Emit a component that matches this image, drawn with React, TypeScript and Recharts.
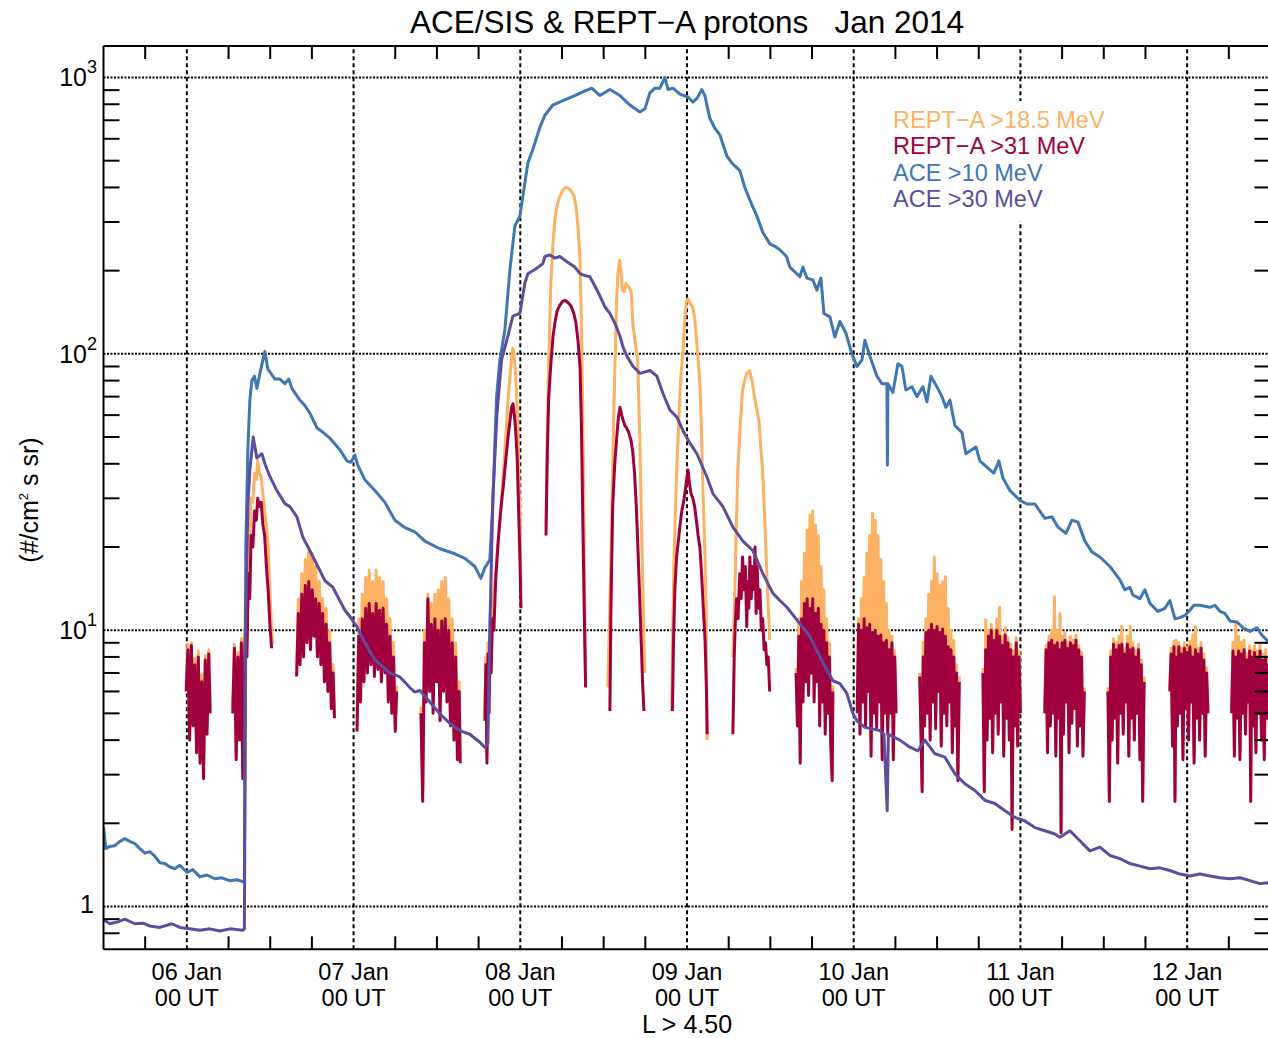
import { LineChart, Line, XAxis, YAxis, ReferenceLine } from "recharts"

// time axis: hours since 06 Jan 2014 00 UT; values in #/cm^2 s sr
const X_MIN = -12
const X_MAX = 156
const Y_MIN = 0.7
const Y_MAX = 1300

const dayTicks = [0, 24, 48, 72, 96, 120, 144]
const dayLabels = ["06 Jan", "07 Jan", "08 Jan", "09 Jan", "10 Jan", "11 Jan", "12 Jan"]
const xMinorTicks = [-6, 6, 12, 18, 30, 36, 42, 54, 60, 66, 78, 84, 90, 102, 108, 114, 126, 132, 138, 150]
const decadeTicks = [1, 10, 100, 1000]
const decadeLabels = ["1", "10^1", "10^2", "10^3"]
const yMinorTicks = [0.8, 0.9, 2, 3, 4, 5, 6, 7, 8, 9, 20, 30, 40, 50, 60, 70, 80, 90, 200, 300, 400, 500, 600, 700, 800, 900]

const seriesNames = ["REPT\u2212A >18.5 MeV", "REPT\u2212A >31 MeV", "ACE >10 MeV", "ACE >30 MeV"]
const seriesColors = ["#FDB163", "#A0003E", "#3F76B4", "#5B4EA0"]

const ace10 = [
  [-12, 1.94], [-11.66, 1.62], [-11.09, 1.65], [-10.37, 1.66], [-9.65, 1.72], [-8.93, 1.76], [-8.21, 1.72], [-7.49, 1.69],
  [-6.77, 1.62], [-6.05, 1.56], [-5.33, 1.58], [-4.61, 1.52], [-3.89, 1.44], [-3.17, 1.43], [-2.45, 1.39], [-1.73, 1.37],
  [-1.01, 1.41], [0, 1.33], [0.86, 1.36], [1.87, 1.28], [2.88, 1.3], [4.03, 1.26], [5.04, 1.27], [6.19, 1.24], [7.2, 1.25],
  [8.06, 1.23], [8.28, 1.24], [8.49, 20], [8.78, 45], [9.07, 68], [9.36, 80], [9.73, 83], [10.08, 75], [10.65, 88],
  [11.23, 102], [11.66, 88], [11.95, 86], [12.67, 81], [13.39, 81], [14.11, 78], [14.68, 81], [15.12, 75], [16.27, 68],
  [16.99, 65], [17.71, 61], [18.72, 54], [19.58, 52], [20.59, 49.5], [22.03, 45], [23.03, 41], [23.61, 40.5], [24.19, 43],
  [24.62, 39.5], [25.63, 35], [27.07, 32], [28.51, 29], [29.95, 25], [31.39, 23.5], [32.82, 22.7], [34.26, 21], [36.42, 19.7],
  [38.58, 18.9], [40.02, 18.2], [41.46, 17], [42.33, 15.4], [42.9, 16.8], [43.33, 17.5], [43.62, 18], [44.05, 29], [44.59, 70],
  [45.06, 95], [45.78, 122], [46.5, 201], [47.22, 290], [47.94, 315], [49.09, 490], [49.81, 550], [50.82, 660], [51.54, 730],
  [52.69, 795], [54.13, 825], [55.86, 860], [57.3, 895], [58.31, 915], [59.46, 860], [60.9, 905], [62.34, 860], [63.78, 795],
  [65.22, 750], [65.94, 770], [66.66, 880], [67.38, 915], [68.1, 915], [68.82, 1000], [69.26, 905], [69.98, 915], [70.98, 870],
  [72.14, 850], [72.85, 815], [73.43, 840], [74.14, 905], [74.58, 860], [74.86, 795], [75.3, 710], [76.01, 655], [76.73, 620],
  [77.74, 520], [78.46, 490], [79.61, 460], [80.33, 400], [81.05, 360], [82.06, 315], [82.92, 275], [83.93, 250], [84.65, 245],
  [85.37, 238], [86.33, 225], [86.81, 206], [88.25, 190], [88.68, 206], [89.26, 188], [90.12, 185], [90.7, 170], [91.28, 188],
  [91.71, 140], [92.57, 136], [93.29, 115], [94.01, 131], [94.87, 119], [95.74, 100], [96.46, 90], [97.18, 95], [97.61, 112],
  [98.33, 98], [99.34, 83], [100.06, 78], [100.78, 78], [100.85, 39.5], [100.92, 78], [101.64, 72.5], [102.36, 92], [102.94, 90],
  [103.51, 74], [104.38, 76], [105.1, 70], [105.96, 76], [106.54, 67], [107.11, 83], [107.98, 76], [108.7, 70], [109.27, 64],
  [109.85, 68], [110.57, 55], [111.57, 52], [112.15, 43.5], [113.01, 45], [113.59, 46], [114.17, 41], [115.61, 38], [116.18, 37],
  [116.9, 41], [117.48, 35.5], [118.49, 32], [119.93, 29.5], [120.93, 28.6], [122.08, 28.6], [123.52, 25.4], [124.53, 25.7],
  [125.4, 23.6], [126.55, 22.4], [127.41, 25], [128.28, 24.6], [129.28, 21], [130.29, 19.2], [131.44, 18.4], [132.88, 17],
  [134.32, 15.2], [135.04, 14], [135.76, 14.3], [136.19, 13.4], [137.2, 13], [137.92, 14], [138.64, 12.5], [139.79, 11.7],
  [140.8, 12], [141.52, 12.8], [142.24, 11], [142.96, 11.1], [143.68, 11.3], [144.4, 11.8], [144.98, 12.3], [145.84, 12.3],
  [147.28, 12.1], [148, 12.3], [148.72, 11.7], [149.44, 11.5], [150.16, 10.8], [151.17, 10.7], [152.03, 10.2], [153.04, 9.9],
  [154.05, 10.2], [154.76, 9.6], [155.63, 9.1], [156, 9.0],
]

const ace30 = [
  [-12, 0.9], [-11.8, 0.89], [-11.09, 0.866], [-9.93, 0.88], [-8.93, 0.9], [-7.49, 0.866], [-6.33, 0.87], [-5.33, 0.85],
  [-3.89, 0.84], [-2.16, 0.866], [-1.01, 0.84], [0.43, 0.83], [1.87, 0.82], [3.31, 0.83], [4.75, 0.815], [6.19, 0.83],
  [8.06, 0.82], [8.28, 0.83], [8.49, 12], [8.78, 28], [9.07, 38], [9.55, 50], [10.08, 42], [10.8, 43.5], [11.23, 40],
  [11.95, 36], [12.96, 32], [14.11, 28.7], [14.83, 28], [15.84, 25.7], [16.7, 21.7], [17.71, 19.4], [18.86, 17], [19.87, 15.1],
  [21.02, 14.3], [21.74, 13.2], [22.75, 11.8], [23.47, 11.2], [24.47, 10.3], [25.63, 9.0], [27.07, 7.8], [29.2, 7.0],
  [30.67, 6.77], [32.1, 6.2], [32.82, 5.97], [33.54, 6.05], [34.98, 5.5], [36.42, 4.98], [37.86, 4.6], [39.3, 4.33],
  [40.74, 4.2], [42.18, 3.93], [42.9, 3.76], [43.33, 3.9], [43.62, 10], [44.05, 30], [44.63, 60], [45.3, 95], [46.21, 116],
  [46.93, 137], [47.94, 140], [48.66, 180], [49.09, 195], [50.1, 202], [51.25, 212], [51.54, 225], [52.26, 228], [52.98, 222],
  [53.7, 225], [54.42, 218], [55.14, 212], [55.86, 206], [56.58, 195], [57.3, 192], [58.02, 190], [58.74, 176], [59.46, 162],
  [60.18, 148], [60.9, 140], [61.62, 129], [62.34, 116], [62.78, 106], [63.35, 98], [64.24, 90], [65.22, 85], [66.66, 87],
  [67.67, 83], [68.53, 72], [69.54, 62.6], [70.54, 59], [71.41, 52.8], [72.42, 47.5], [73.43, 43.5], [74.86, 35.9],
  [75.73, 31.2], [77.17, 28], [78.61, 23.6], [80.05, 21], [81.49, 19.4], [82.92, 16], [84.36, 13.6], [85.37, 12.8],
  [86.38, 12.1], [87.82, 10.9], [89.69, 9.5], [91.13, 8.0], [93.0, 6.56], [94.01, 6.4], [95.02, 5.9], [95.88, 5.0],
  [96.46, 4.7], [97.61, 4.45], [99.77, 4.33], [100.35, 4.2], [100.82, 2.22], [100.99, 4.2], [102.65, 4.0], [104.09, 3.77],
  [105.24, 3.66], [106.25, 4.0], [107.69, 3.57], [109.13, 3.47], [110.57, 3.02], [112.0, 2.78], [113.45, 2.63], [114.89, 2.42],
  [116.33, 2.36], [117.77, 2.22], [119.21, 2.1], [120.65, 2.04], [122.08, 1.93], [123.52, 1.88], [124.96, 1.83], [125.68, 1.78],
  [127.12, 1.88], [128.56, 1.73], [130.0, 1.59], [131.44, 1.64], [132.88, 1.53], [134.32, 1.49], [135.76, 1.43], [137.2, 1.4],
  [138.64, 1.37], [140.08, 1.38], [141.52, 1.35], [142.96, 1.31], [144.4, 1.29], [145.84, 1.31], [147.28, 1.29], [148.72, 1.27],
  [150.16, 1.26], [151.6, 1.27], [153.04, 1.24], [154.46, 1.21], [155.63, 1.22], [156, 1.2],
]

// REPT-A passes above L = 4.5, one array per pass
const rept31Passes = [
  [[-0.1, 6.0], [0.15, 8.5], [0.4, 4.0], [0.65, 8.8], [0.9, 4.5], [1.15, 7.5], [1.4, 3.6], [1.65, 8.0], [1.9, 3.3], [2.15, 6.5], [2.4, 2.9], [2.65, 7.8], [2.9, 4.2], [3.15, 8.2], [3.35, 5.0]],
  [[6.6, 5.0], [6.85, 8.6], [7.1, 3.4], [7.35, 8.0], [7.6, 4.0], [7.85, 9.0], [8.05, 2.9], [8.25, 6.5], [8.45, 10.5], [8.65, 8.0], [8.85, 16], [9.05, 13], [9.25, 22], [9.5, 20], [9.75, 27], [10.0, 25], [10.2, 30], [10.45, 28], [10.7, 29], [10.95, 24], [11.2, 22], [11.45, 17], [11.7, 14], [11.95, 10.5], [12.2, 8.6]],
  [[15.8, 6.8], [16.05, 11.5], [16.3, 7.5], [16.55, 13.5], [16.8, 8.0], [17.05, 14.5], [17.3, 9.0], [17.55, 15.0], [17.8, 8.5], [18.05, 14.0], [18.3, 9.5], [18.55, 13.0], [18.8, 8.0], [19.05, 12.5], [19.3, 7.5], [19.55, 11.5], [19.8, 6.5], [20.05, 10.5], [20.3, 6.0], [20.55, 9.0], [20.8, 5.2], [21.05, 7.0], [21.25, 4.8]],
  [[24.5, 4.3], [24.75, 9.5], [25.0, 5.5], [25.25, 11], [25.5, 6.5], [25.75, 12], [26.0, 7.0], [26.25, 12.5], [26.5, 7.5], [26.75, 11.5], [27.0, 6.8], [27.25, 12.5], [27.5, 7.2], [27.75, 11.8], [28.0, 6.5], [28.25, 12], [28.5, 7.0], [28.75, 10.5], [29.0, 5.5], [29.25, 9.5], [29.5, 5.0], [29.75, 8.0], [30.0, 4.3], [30.2, 6.0]],
  [[33.7, 5.0], [33.95, 2.4], [34.2, 9.0], [34.45, 5.5], [34.7, 13.0], [34.95, 6.0], [35.2, 10.5], [35.45, 5.0], [35.7, 11.0], [35.95, 6.5], [36.2, 10.0], [36.45, 4.7], [36.7, 10.8], [36.95, 6.0], [37.2, 11.0], [37.45, 5.5], [37.7, 10.0], [37.95, 4.5], [38.2, 9.0], [38.45, 4.0], [38.7, 8.0], [38.95, 3.4], [39.2, 6.0], [39.35, 3.3]],
  [[42.9, 4.7], [43.05, 7.5], [43.2, 3.3], [43.35, 8.2], [43.5, 5.0], [43.65, 9.5], [43.8, 7.0], [44.0, 11], [44.2, 10], [44.45, 15], [44.7, 19], [45.0, 24], [45.3, 29], [45.6, 34], [45.9, 41], [46.2, 49], [46.5, 57], [46.75, 64], [46.95, 66], [47.15, 60], [47.35, 52], [47.55, 42], [47.75, 28], [47.95, 18], [48.1, 12]],
  [[51.7, 22], [51.9, 45], [52.1, 70], [52.4, 92], [52.7, 115], [53.0, 130], [53.3, 143], [53.7, 150], [54.1, 155], [54.5, 156], [54.9, 153], [55.3, 149], [55.7, 140], [56.0, 130], [56.3, 112], [56.6, 90], [56.8, 55], [57.0, 25], [57.2, 12], [57.4, 6.2]],
  [[60.9, 5.1], [61.05, 12], [61.3, 28], [61.6, 40], [61.85, 48.5], [62.1, 58], [62.35, 64], [62.6, 60], [62.8, 57.6], [63.05, 55], [63.3, 54], [63.6, 52], [63.95, 48.5], [64.2, 44], [64.45, 37], [64.7, 28], [64.9, 21], [65.15, 14], [65.4, 9.2], [65.6, 6.5], [65.8, 5.1]],
  [[69.9, 5.1], [70.05, 9], [70.25, 14], [70.5, 18.4], [70.75, 21], [71.0, 24], [71.25, 27], [71.5, 29], [71.75, 32], [72.0, 36], [72.15, 38], [72.35, 34], [72.6, 31], [72.85, 30], [73.1, 28], [73.35, 25], [73.6, 22], [73.85, 20], [74.1, 16], [74.35, 12], [74.6, 9.2], [74.8, 6], [74.9, 4.2]],
  [[78.6, 4.2], [78.8, 8], [78.95, 10.6], [79.15, 13], [79.35, 11], [79.6, 16], [79.8, 13], [80.0, 18.4], [80.2, 14], [80.4, 17], [80.6, 10.3], [80.75, 15], [80.9, 12], [81.05, 18.4], [81.25, 13], [81.45, 17], [81.65, 14], [81.8, 20], [81.95, 11.5], [82.1, 17], [82.3, 12], [82.5, 14], [82.7, 10], [82.9, 11], [83.1, 8.5], [83.3, 9], [83.5, 7.5], [83.7, 8], [83.9, 6]],
  [[87.7, 7], [87.9, 4.5], [88.1, 9.5], [88.3, 3.3], [88.5, 11], [88.7, 5.5], [88.9, 12.5], [89.1, 6.5], [89.3, 13], [89.5, 5.8], [89.7, 12], [89.9, 7], [90.1, 13], [90.3, 5.5], [90.5, 11.5], [90.7, 6.5], [90.9, 12], [91.1, 4.5], [91.3, 10.5], [91.5, 5.5], [91.7, 10], [91.9, 4.2], [92.1, 9], [92.3, 5], [92.5, 8], [92.7, 3.8], [92.9, 2.85], [93.0, 6]],
  [[96.5, 5], [96.7, 10.5], [96.9, 4.2], [97.1, 10], [97.3, 5.5], [97.5, 11], [97.7, 4.5], [97.9, 10.2], [98.1, 6], [98.3, 10.5], [98.5, 3.5], [98.7, 9.8], [98.9, 5], [99.1, 10], [99.3, 4.4], [99.5, 9.5], [99.7, 5.5], [99.9, 9.6], [100.1, 3.4], [100.3, 9], [100.5, 5], [100.7, 9.2], [100.9, 4.2], [101.1, 8.5], [101.3, 5], [101.5, 9], [101.7, 3.4], [101.9, 8], [102.1, 5]],
  [[105.5, 6.8], [105.7, 4], [105.85, 2.6], [106.0, 8], [106.2, 4.5], [106.4, 9.8], [106.6, 5], [106.8, 10], [107.0, 4], [107.2, 10.5], [107.4, 5.5], [107.6, 10], [107.8, 4.4], [108.0, 10.3], [108.2, 6], [108.4, 9.8], [108.6, 3.8], [108.8, 10.1], [109.0, 5], [109.2, 9.5], [109.4, 4.5], [109.6, 8.7], [109.8, 5.5], [110.0, 8.5], [110.2, 3.6], [110.4, 8], [110.6, 4.5], [110.8, 7], [111.0, 2.85], [111.2, 6.5]],
  [[114.6, 7], [114.8, 2.6], [115.0, 8.5], [115.2, 4], [115.4, 9.5], [115.6, 4.8], [115.8, 10], [116.0, 3.6], [116.2, 9.2], [116.4, 5], [116.6, 10], [116.8, 4.2], [117.0, 9.5], [117.2, 5.5], [117.4, 8.8], [117.6, 3.5], [117.8, 9.6], [118.0, 4.8], [118.2, 9], [118.4, 4], [118.6, 8.5], [118.8, 1.9], [119.0, 8], [119.2, 4.5], [119.4, 9], [119.6, 3.8], [119.8, 8], [120.0, 5]],
  [[123.5, 5], [123.7, 8.5], [123.9, 3.6], [124.1, 9], [124.3, 4.5], [124.5, 9.2], [124.7, 5], [124.9, 8.8], [125.1, 3.5], [125.3, 9], [125.5, 4.8], [125.7, 8.5], [125.85, 1.85], [126.0, 9], [126.2, 4.2], [126.4, 9.2], [126.6, 5.5], [126.8, 8.6], [127.0, 3.6], [127.2, 9], [127.4, 4.6], [127.6, 8.8], [127.8, 5.2], [128.0, 9.2], [128.2, 3.8], [128.4, 8.5], [128.6, 4.5], [128.8, 8], [129.0, 3.5], [129.2, 6]],
  [[132.6, 6], [132.8, 2.4], [133.0, 8], [133.2, 4], [133.4, 8.9], [133.6, 4.8], [133.8, 8.5], [134.0, 3.3], [134.2, 8.8], [134.4, 5], [134.6, 8.9], [134.8, 4.2], [135.0, 8.2], [135.2, 5.5], [135.4, 8.9], [135.6, 3.5], [135.8, 8.5], [136.0, 4.8], [136.2, 8.6], [136.4, 4], [136.6, 8], [136.8, 5], [137.0, 8.5], [137.2, 3.4], [137.4, 7.5], [137.6, 2.4], [137.8, 6.5]],
  [[141.5, 6], [141.7, 8.2], [141.9, 3.8], [142.1, 8.7], [142.25, 2.4], [142.4, 8], [142.6, 4.5], [142.8, 8.7], [143.0, 5], [143.2, 8.2], [143.4, 3.4], [143.6, 8.6], [143.8, 5.2], [144.0, 8.3], [144.2, 4], [144.4, 8.7], [144.6, 5.5], [144.8, 8], [145.0, 3.3], [145.2, 8.5], [145.4, 4.8], [145.6, 8.2], [145.8, 4], [146.0, 8.6], [146.2, 5], [146.4, 7.8], [146.6, 3.5], [146.8, 7], [147.0, 5]],
  [[150.4, 5], [150.6, 8.4], [150.8, 3.5], [151.0, 8], [151.2, 4.8], [151.4, 8.4], [151.6, 3.4], [151.8, 8.2], [152.0, 5], [152.2, 8.5], [152.4, 4.2], [152.6, 7.8], [152.8, 5.5], [153.0, 8.4], [153.15, 2.4], [153.3, 8], [153.5, 4.5], [153.7, 8.3], [153.9, 3.6], [154.1, 8], [154.3, 5], [154.5, 8.4], [154.7, 4], [154.9, 7.8], [155.1, 3.4], [155.3, 8], [155.5, 4.8], [155.7, 7.5], [155.9, 3.8], [156.0, 6]],
]

const rept18Passes = [
  [[-0.1, 6.3], [0.15, 8.9], [0.4, 4.3], [0.65, 9.0], [0.9, 4.8], [1.15, 7.9], [1.4, 3.9], [1.65, 8.4], [1.9, 3.5], [2.15, 6.9], [2.4, 3.1], [2.65, 8.1], [2.9, 4.5], [3.15, 8.5], [3.35, 5.3]],
  [[6.6, 5.3], [6.85, 8.9], [7.1, 3.6], [7.35, 8.3], [7.6, 4.3], [7.85, 9.3], [8.05, 3.1], [8.25, 7.5], [8.45, 13], [8.65, 11], [8.85, 22], [9.05, 20], [9.25, 30], [9.5, 29], [9.75, 37], [10.0, 35], [10.2, 41], [10.45, 37], [10.7, 36], [10.95, 31], [11.2, 27], [11.45, 24], [11.7, 20], [11.95, 14], [12.3, 8.9]],
  [[15.8, 7.2], [16.05, 13], [16.3, 9], [16.55, 16], [16.8, 11], [17.05, 18], [17.3, 12], [17.55, 20], [17.8, 13], [18.05, 19], [18.3, 12], [18.55, 17], [18.8, 11], [19.05, 15], [19.3, 9.5], [19.55, 13], [19.8, 8], [20.05, 12], [20.3, 6.5], [20.55, 10], [20.8, 5.5], [21.05, 7.5], [21.25, 4.9]],
  [[24.5, 4.5], [24.75, 11], [25.0, 6.5], [25.25, 13.5], [25.5, 8], [25.75, 15.5], [26.0, 9], [26.25, 16.5], [26.5, 10], [26.75, 15], [27.0, 9], [27.25, 16.5], [27.5, 10], [27.75, 15.5], [28.0, 9], [28.25, 15], [28.5, 8.5], [28.75, 13], [29.0, 7], [29.25, 11], [29.5, 6], [29.75, 9], [30.0, 4.5], [30.2, 6.3]],
  [[33.7, 5.3], [33.95, 2.6], [34.2, 10], [34.45, 6.5], [34.7, 13.5], [34.95, 8], [35.2, 12.5], [35.45, 7], [35.7, 13.5], [35.95, 8.5], [36.2, 14], [36.45, 7], [36.7, 15], [36.95, 9], [37.2, 15.5], [37.45, 8], [37.7, 13], [37.95, 6.5], [38.2, 11], [38.45, 5.5], [38.7, 9], [38.95, 4], [39.2, 6.5], [39.35, 3.4]],
  [[42.9, 5.0], [43.05, 8], [43.2, 3.5], [43.35, 9], [43.5, 6], [43.65, 11.5], [43.8, 10], [44.0, 12], [44.2, 14], [44.45, 16], [44.7, 19], [45.0, 24], [45.3, 30], [45.6, 38], [45.9, 50], [46.2, 66], [46.5, 82], [46.75, 98], [46.95, 105], [47.15, 96], [47.35, 82], [47.55, 65], [47.75, 42], [47.95, 25], [48.1, 14]],
  [[51.7, 24], [51.9, 55], [52.1, 95], [52.4, 180], [52.7, 250], [53.0, 310], [53.3, 345], [53.7, 372], [54.1, 390], [54.5, 400], [54.9, 398], [55.3, 390], [55.7, 375], [56.0, 345], [56.3, 290], [56.6, 218], [56.8, 130], [57.0, 60], [57.2, 20], [57.4, 6.5]],
  [[60.6, 6.2], [60.8, 10], [61.1, 21], [61.35, 45], [61.6, 85], [61.85, 150], [62.05, 195], [62.3, 218], [62.5, 200], [62.7, 170], [62.95, 168], [63.2, 180], [63.5, 176], [63.8, 172], [64.0, 165], [64.2, 128], [64.5, 112], [64.9, 95], [65.2, 50], [65.45, 24], [65.65, 14], [65.9, 7]],
  [[69.8, 5.1], [69.95, 10], [70.1, 17], [70.35, 28], [70.55, 40], [70.8, 55], [71.0, 74], [71.2, 88], [71.45, 105], [71.7, 135], [71.9, 155], [72.15, 158], [72.45, 152], [72.8, 148], [73.1, 135], [73.4, 110], [73.65, 92], [73.9, 74], [74.1, 50], [74.3, 32], [74.55, 20], [74.75, 12], [74.9, 4.0]],
  [[78.6, 8], [78.9, 14], [79.1, 24], [79.3, 37], [79.6, 52], [80.0, 74], [80.3, 80], [80.6, 85], [81.0, 87], [81.2, 83], [81.4, 79], [81.7, 70], [82.0, 64], [82.2, 60], [82.4, 56], [82.65, 45], [82.9, 37], [83.2, 25], [83.5, 16], [83.7, 12], [83.9, 9.2]],
  [[87.7, 7.3], [87.9, 4.8], [88.1, 11], [88.3, 3.5], [88.5, 15], [88.7, 6], [88.9, 19], [89.1, 7.5], [89.3, 23], [89.5, 7], [89.7, 26], [89.9, 9], [90.1, 27], [90.3, 8], [90.5, 24], [90.7, 9], [90.9, 22], [91.1, 6], [91.3, 17], [91.5, 7], [91.7, 14], [91.9, 5], [92.1, 11], [92.3, 6], [92.5, 9], [92.7, 4], [92.9, 3], [93.0, 6.3]],
  [[96.5, 5.3], [96.7, 11], [96.9, 4.5], [97.1, 13], [97.3, 6], [97.5, 15.5], [97.7, 5], [97.9, 19], [98.1, 7], [98.3, 22], [98.5, 4], [98.7, 26.5], [98.9, 6], [99.1, 25], [99.3, 5], [99.5, 22], [99.7, 6], [99.9, 18], [100.1, 3.6], [100.3, 15], [100.5, 5.5], [100.7, 12.5], [100.9, 4.5], [101.1, 10], [101.3, 5.3], [101.5, 9.5], [101.7, 3.6], [101.9, 8.4], [102.1, 5.2]],
  [[105.5, 7], [105.7, 4.2], [105.85, 2.7], [106.0, 9], [106.2, 5], [106.4, 11], [106.6, 5.5], [106.8, 13.5], [107.0, 4.5], [107.2, 15], [107.4, 6], [107.6, 18.4], [107.8, 5], [108.0, 16], [108.2, 6.5], [108.4, 14.5], [108.6, 4], [108.8, 15], [109.0, 5.5], [109.2, 15.6], [109.4, 5], [109.6, 12], [109.8, 6], [110.0, 10], [110.2, 4], [110.4, 9.2], [110.6, 5], [110.8, 7.5], [111.0, 3], [111.2, 6.8]],
  [[114.6, 7.3], [114.8, 2.7], [115.0, 10.9], [115.2, 4.2], [115.4, 10], [115.6, 5], [115.8, 10.5], [116.0, 3.8], [116.2, 10], [116.4, 5.3], [116.6, 11], [116.8, 4.4], [117.0, 12.1], [117.2, 5.8], [117.4, 9.5], [117.6, 3.7], [117.8, 10.2], [118.0, 5], [118.2, 9.4], [118.4, 4.2], [118.6, 8.9], [118.8, 2], [119.0, 8.4], [119.2, 4.7], [119.4, 9.4], [119.6, 4], [119.8, 8.4], [120.0, 5.2]],
  [[123.5, 5.2], [123.7, 8.8], [123.9, 3.8], [124.1, 9.5], [124.3, 4.7], [124.5, 10], [124.7, 5.2], [124.9, 13.2], [125.1, 3.7], [125.3, 10], [125.5, 5], [125.7, 11.5], [125.85, 1.9], [126.0, 9.5], [126.2, 4.4], [126.4, 9.8], [126.6, 5.7], [126.8, 9], [127.0, 3.8], [127.2, 9.5], [127.4, 4.8], [127.6, 9.2], [127.8, 5.4], [128.0, 9.6], [128.2, 4], [128.4, 8.8], [128.6, 4.7], [128.8, 8.3], [129.0, 3.7], [129.2, 6.2]],
  [[132.6, 6.2], [132.8, 2.5], [133.0, 8.4], [133.2, 4.2], [133.4, 9.3], [133.6, 5], [133.8, 9], [134.0, 3.5], [134.2, 9.5], [134.4, 5.2], [134.6, 10.3], [134.8, 4.4], [135.0, 8.6], [135.2, 5.7], [135.4, 9.5], [135.6, 3.7], [135.8, 10.3], [136.0, 5], [136.2, 9], [136.4, 4.2], [136.6, 8.4], [136.8, 5.2], [137.0, 8.9], [137.2, 3.6], [137.4, 7.8], [137.6, 2.5], [137.8, 6.8]],
  [[141.5, 6.2], [141.7, 8.6], [141.9, 4], [142.1, 9.1], [142.25, 2.5], [142.4, 9.2], [142.6, 4.7], [142.8, 9], [143.0, 5.2], [143.2, 8.6], [143.4, 3.6], [143.6, 9], [143.8, 5.4], [144.0, 8.7], [144.2, 4.2], [144.4, 9.1], [144.6, 5.7], [144.8, 9.6], [145.0, 3.5], [145.2, 10.3], [145.4, 5], [145.6, 8.6], [145.8, 4.2], [146.0, 9], [146.2, 5.2], [146.4, 8.2], [146.6, 3.7], [146.8, 7.3], [147.0, 5.2]],
  [[150.4, 5.2], [150.6, 9], [150.8, 3.7], [151.0, 10.7], [151.2, 5], [151.4, 9.5], [151.6, 3.6], [151.8, 9], [152.0, 5.2], [152.2, 9.2], [152.4, 4.4], [152.6, 8.2], [152.8, 5.7], [153.0, 8.8], [153.15, 2.5], [153.3, 8.4], [153.5, 4.7], [153.7, 8.8], [153.9, 3.8], [154.1, 8.4], [154.3, 5.2], [154.5, 8.9], [154.7, 4.2], [154.9, 8.2], [155.1, 3.6], [155.3, 8.5], [155.5, 5], [155.7, 7.9], [155.9, 4], [156.0, 6.2]],
]

// chart geometry
const W = 1290
const H = 1038
const PL = 103.5
const PT = 46
const PR = 1270.5
const PB = 949.3
const Y_AXIS_W = 60
const X_AXIS_H = 60
const FONT = "'Liberation Sans', Arial, Helvetica, sans-serif"

const toRows = (pts: number[][]) => pts.map(([t, v]) => ({ t, v }))
const joinPasses = (passes: number[][][]) => {
  const rows: { t: number; v: number | null }[] = []
  passes.forEach((p, i) => {
    if (i > 0) rows.push({ t: (passes[i - 1][passes[i - 1].length - 1][0] + p[0][0]) / 2, v: null })
    rows.push(...toRows(p))
  })
  return rows
}

const ace10Rows = toRows(ace10)
const ace30Rows = toRows(ace30)
const rept18Rows = joinPasses(rept18Passes)
const rept31Rows = joinPasses(rept31Passes)

const XTick = (props: any) => {
  const { x, payload } = props
  const v = payload.value
  const di = dayTicks.indexOf(v)
  if (di >= 0) {
    return (
      <g fontFamily={FONT} fontSize={23.5} fill="#000">
        <text x={x} y={PB + 30.5} textAnchor="middle">{dayLabels[di]}</text>
        <text x={x} y={PB + 56.5} textAnchor="middle">00 UT</text>
      </g>
    )
  }
  return (
    <g>
      <line x1={x} x2={x} y1={PB} y2={PB - 13} stroke="#000" strokeWidth={2} />
      <line x1={x} x2={x} y1={PT} y2={PT + 13} stroke="#000" strokeWidth={2} />
    </g>
  )
}

const YTick = (props: any) => {
  const { y, payload } = props
  const v = payload.value
  const di = decadeTicks.indexOf(v)
  if (di >= 0) {
    const [base, exp] = decadeLabels[di].split("^")
    return (
      <text x={exp ? 97 : 94} y={y + (exp ? 9 : 7)} textAnchor="end" fontFamily={FONT} fontSize={25} fill="#000">
        <tspan>{base}</tspan>
        {exp && <tspan dy={-13} fontSize={18}>{exp}</tspan>}
      </text>
    )
  }
  return (
    <g>
      <line x1={PL} x2={PL + 16} y1={y} y2={y} stroke="#000" strokeWidth={2} />
      <line x1={PR} x2={PR - 16} y1={y} y2={y} stroke="#000" strokeWidth={2} />
    </g>
  )
}

export default function App() {
  return (
    <div style={{ position: "absolute", left: 0, top: 0, width: 1268, height: 1038, overflow: "hidden", background: "#fff" }}>
      <div style={{ position: "relative", width: W, height: H }}>
        <LineChart
          width={W}
          height={H}
          margin={{ top: PT, left: PL - Y_AXIS_W, right: W - PR, bottom: H - PB - X_AXIS_H }}
        >
          <XAxis
            type="number"
            dataKey="t"
            domain={[X_MIN, X_MAX]}
            ticks={[...xMinorTicks, ...dayTicks].sort((a, b) => a - b)}
            interval={0}
            allowDataOverflow
            height={X_AXIS_H}
            tickSize={0}
            tickMargin={0}
            tickLine={false}
            tick={<XTick />}
            axisLine={{ stroke: "#000", strokeWidth: 2 }}
          />
          <YAxis
            type="number"
            scale="log"
            domain={[Y_MIN, Y_MAX]}
            ticks={[...yMinorTicks, ...decadeTicks].sort((a, b) => a - b)}
            interval={0}
            allowDataOverflow
            width={Y_AXIS_W}
            tickSize={0}
            tickMargin={0}
            tickLine={false}
            tick={<YTick />}
            axisLine={{ stroke: "#000", strokeWidth: 2 }}
          />
          {decadeTicks.map((d) => (
            <ReferenceLine key={`h${d}`} y={d} stroke="#000" strokeWidth={2} strokeDasharray="2 1.5" />
          ))}
          {dayTicks.map((d) => (
            <ReferenceLine key={`v${d}`} x={d} stroke="#000" strokeWidth={2} strokeDasharray="4 3" />
          ))}
          <ReferenceLine y={Y_MAX} stroke="#000" strokeWidth={2} />
          <ReferenceLine x={X_MAX} stroke="#000" strokeWidth={2} />
          <Line data={rept18Rows} dataKey="v" stroke={seriesColors[0]} strokeWidth={3} dot={false} connectNulls={false} strokeLinejoin="round" isAnimationActive={false} />
          <Line data={rept31Rows} dataKey="v" stroke={seriesColors[1]} strokeWidth={3} dot={false} connectNulls={false} strokeLinejoin="round" isAnimationActive={false} />
          <Line data={ace10Rows} dataKey="v" stroke={seriesColors[2]} strokeWidth={3} dot={false} strokeLinejoin="round" isAnimationActive={false} />
          <Line data={ace30Rows} dataKey="v" stroke={seriesColors[3]} strokeWidth={3} dot={false} strokeLinejoin="round" isAnimationActive={false} />
        </LineChart>
        <svg width={W} height={H} style={{ position: "absolute", left: 0, top: 0, pointerEvents: "none" }}>
          <g fontFamily={FONT}>
            <text x={(PL + PR) / 2} y={33} textAnchor="middle" fontSize={31.5} fill="#000" style={{ whiteSpace: "pre" }}>
              {"ACE/SIS & REPT\u2212A protons   Jan 2014"}
            </text>
            <text x={(PL + PR) / 2} y={1033} textAnchor="middle" fontSize={25} fill="#000">L &gt; 4.50</text>
            <text transform="translate(38,500) rotate(-90)" textAnchor="middle" fontSize={25} fill="#000">
              <tspan>(#/cm</tspan>
              <tspan dy={-10} fontSize={13}>2</tspan>
              <tspan dy={10}> s sr)</tspan>
            </text>
            <rect x={886} y={101} width={244} height={120} fill="#fff" />
            {seriesNames.map((n, i) => (
              <text key={n} x={893} y={128 + i * 26.4} fontSize={23.5} fill={seriesColors[i]}>{n}</text>
            ))}
          </g>
        </svg>
      </div>
    </div>
  )
}
